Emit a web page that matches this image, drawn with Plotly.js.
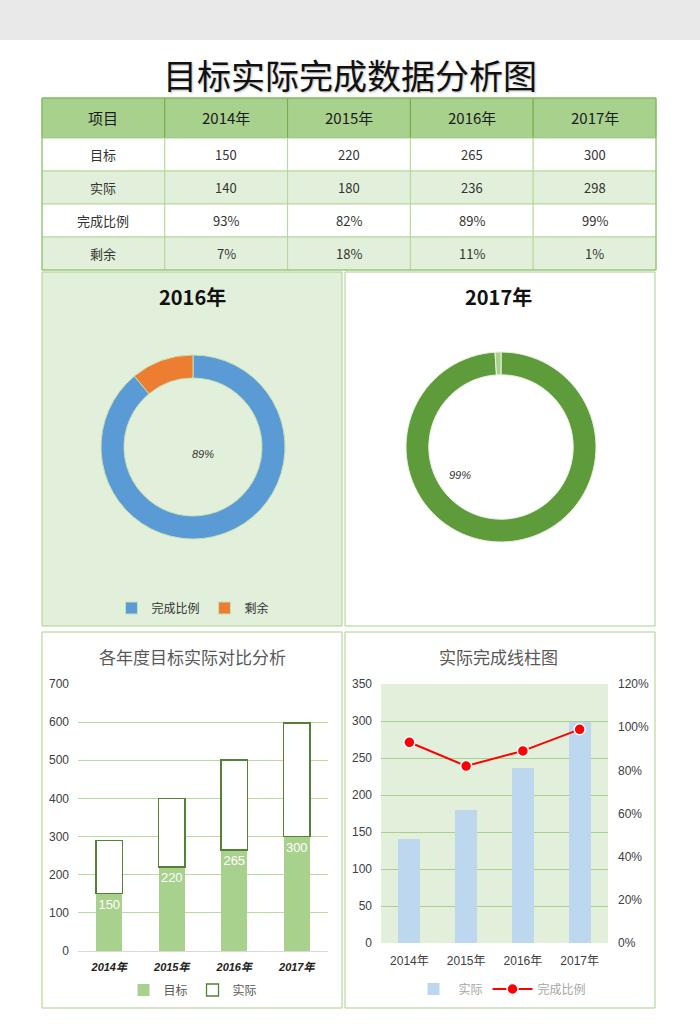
<!DOCTYPE html>
<html><head><meta charset="utf-8">
<script src="https://cdn.plot.ly/plotly-3.0.1.min.js"></script>
<style>html,body{margin:0;padding:0;background:#fff;} #chart{width:700px;height:1030px;}</style>
</head><body><div id="chart"></div>
<script>
// ---- data ----
const years = ['2014年', '2015年', '2016年', '2017年'];
const headerFirst = '项目';
const rowLabels = ['目标', '实际', '完成比例', '剩余'];
const target = [150, 220, 265, 300];
const actual = [140, 180, 236, 298];
const ratio = [93, 82, 89, 99];     // 完成比例 %
const remain = [7, 18, 11, 1];      // 剩余 %
const pieLabels = ['完成比例', '剩余'];
const mainTitle = '目标实际完成数据分析图';
const barTitle = '各年度目标实际对比分析';
const comboTitle = '实际完成线柱图';

// ---- helpers ----
const W = 700, H = 1030;
const fx = x => x / W;
const fy = y => 1 - y / H;
const CJK = '"Noto Sans CJK SC", "Liberation Sans", sans-serif';
const NUM = '"Liberation Sans", Arial, "Noto Sans CJK SC", sans-serif';
const gridGreen = '#a9d18e';

// ---- table (built from the arrays) ----
const tblX0 = 42, tblX1 = 656, tblY0 = 98, headH = 40, rowH = 33;
const colW = (tblX1 - tblX0) / (years.length + 1);
const headerRow = [headerFirst, ...years];
const bodyRows = [target.map(String), actual.map(String), ratio.map(v => v + '%'), remain.map(v => v + '%')];
const tableShapes = [];
const tableAnns = [];
headerRow.forEach((h, c) => {
  const x0 = tblX0 + c * colW, x1 = x0 + colW;
  tableShapes.push({type: 'rect', xref: 'paper', yref: 'paper', layer: 'below',
    x0: fx(x0), x1: fx(x1), y0: fy(tblY0 + headH), y1: fy(tblY0),
    fillcolor: '#a9d18e', line: {color: '#70ad47', width: 1}});
  tableAnns.push({text: h, xref: 'paper', yref: 'paper', x: fx((x0 + x1) / 2), y: fy(tblY0 + headH / 2),
    xanchor: 'center', yanchor: 'middle', showarrow: false,
    font: {family: CJK, size: 15, color: '#1a1a1a'}});
});
rowLabels.forEach((lab, r) => {
  const y0 = tblY0 + headH + r * rowH, y1 = y0 + rowH;
  const fill = r % 2 === 0 ? '#ffffff' : '#e2efda';
  const rowVals = [lab, ...bodyRows[r]];
  rowVals.forEach((v, c) => {
    const x0 = tblX0 + c * colW, x1 = x0 + colW;
    tableShapes.push({type: 'rect', xref: 'paper', yref: 'paper', layer: 'below',
      x0: fx(x0), x1: fx(x1), y0: fy(y1), y1: fy(y0),
      fillcolor: fill, line: {color: '#b4d79b', width: 1}});
    tableAnns.push({text: v, xref: 'paper', yref: 'paper', x: fx((x0 + x1) / 2), y: fy((y0 + y1) / 2),
      xanchor: 'center', yanchor: 'middle', showarrow: false,
      font: {family: CJK, size: 13, color: '#333333'}});
  });
});

const traces = [
  {
    type: 'pie', labels: pieLabels, values: [ratio[2], remain[2]],
    hole: 0.75, sort: false, direction: 'clockwise', rotation: 0,
    textinfo: 'none', hoverinfo: 'label+percent',
    domain: {x: [fx(101), fx(285)], y: [fy(539), fy(355)]},
    marker: {colors: ['#5b9bd5', '#ed7d31'], line: {color: '#c5e0b4', width: 1}},
    legend: 'legend'
  },
  {
    type: 'pie', labels: pieLabels, values: [ratio[3], remain[3]],
    hole: 0.76, sort: false, direction: 'clockwise', rotation: 0,
    textinfo: 'none', hoverinfo: 'label+percent',
    domain: {x: [fx(406), fx(596)], y: [fy(542), fy(352)]},
    marker: {colors: ['#5e9b3a', '#a9d18e'], line: {color: '#e8f2e0', width: 1}},
    legend: 'legend2'
  },
  {
    type: 'bar', name: rowLabels[0], x: years, y: target, xaxis: 'x', yaxis: 'y',
    width: 0.42, marker: {color: '#a9d18e', line: {color: '#a9d18e', width: 0}},
    text: target, texttemplate: '%{y}', textposition: 'inside', insidetextanchor: 'end',
    textangle: 0, constraintext: 'none',
    textfont: {family: NUM, size: 13, color: '#ffffff'}, legend: 'legend3'
  },
  {
    type: 'bar', name: rowLabels[1], x: years, y: actual, xaxis: 'x', yaxis: 'y',
    width: 0.42, marker: {color: '#ffffff', line: {color: '#548235', width: 1.3}},
    legend: 'legend3'
  },
  {
    type: 'bar', name: rowLabels[1], x: years, y: actual, xaxis: 'x2', yaxis: 'y2',
    width: 0.39, marker: {color: '#bdd7ee'}, legend: 'legend4'
  },
  {
    type: 'scatter', mode: 'lines+markers', name: rowLabels[2], x: years, y: ratio,
    xaxis: 'x2', yaxis: 'y3',
    line: {color: '#ff0000', width: 2},
    marker: {size: 11, color: '#ff0000', line: {color: '#ffffff', width: 1.5}},
    legend: 'legend4'
  }
];

const panel = (x0, y0, x1, y1, fill) => ({
  type: 'rect', xref: 'paper', yref: 'paper', layer: 'below',
  x0: fx(x0), x1: fx(x1), y0: fy(y1), y1: fy(y0),
  fillcolor: fill, line: {color: '#a9d18e', width: 1}
});

const layout = {
  width: W, height: H,
  margin: {l: 0, r: 0, t: 0, b: 0},
  paper_bgcolor: '#ffffff', plot_bgcolor: 'rgba(0,0,0,0)',
  showlegend: true, barmode: 'stack',
  font: {family: CJK, color: '#404040'},
  shapes: [
    {type: 'rect', xref: 'paper', yref: 'paper', layer: 'below', x0: 0, x1: 1, y0: fy(40), y1: 1,
     fillcolor: '#e9e9e9', line: {width: 0}},
    ...tableShapes,
    {type: 'rect', xref: 'paper', yref: 'paper', layer: 'below',
     x0: fx(tblX0), x1: fx(tblX1), y0: fy(tblY0 + headH + rowH * rowLabels.length), y1: fy(tblY0),
     fillcolor: 'rgba(0,0,0,0)', line: {color: '#8cc06a', width: 1}},
    panel(42, 272, 342, 626, '#e2efda'),
    panel(345, 272, 655, 626, '#ffffff'),
    panel(42, 632, 342, 1008, '#ffffff'),
    panel(345, 632, 655, 1008, '#ffffff'),
    {type: 'rect', xref: 'x2 domain', yref: 'y2 domain', layer: 'below', x0: 0, x1: 1, y0: 0, y1: 1,
     fillcolor: '#e2efda', line: {width: 0}}
  ],
  annotations: [
    {text: mainTitle, xref: 'paper', yref: 'paper', x: fx(350), y: fy(75), xanchor: 'center', yanchor: 'middle',
     showarrow: false, font: {family: CJK, size: 34, color: '#111111', shadow: '1px 1px 2px #bbbbbb'}},
    ...tableAnns,
    {text: '<b>' + years[2] + '</b>', xref: 'paper', yref: 'paper', x: fx(192), y: fy(297), xanchor: 'center', yanchor: 'middle',
     showarrow: false, font: {family: CJK, size: 20, color: '#111111'}},
    {text: '<b>' + years[3] + '</b>', xref: 'paper', yref: 'paper', x: fx(498), y: fy(297), xanchor: 'center', yanchor: 'middle',
     showarrow: false, font: {family: CJK, size: 20, color: '#111111'}},
    {text: ratio[2] + '%', xref: 'paper', yref: 'paper', x: fx(203), y: fy(454), xanchor: 'center', yanchor: 'middle',
     showarrow: false, font: {family: NUM, size: 11, color: '#333333', style: 'italic'}},
    {text: ratio[3] + '%', xref: 'paper', yref: 'paper', x: fx(460), y: fy(475), xanchor: 'center', yanchor: 'middle',
     showarrow: false, font: {family: NUM, size: 11, color: '#333333', style: 'italic'}},
    {text: barTitle, xref: 'paper', yref: 'paper', x: fx(193), y: fy(656), xanchor: 'center', yanchor: 'middle',
     showarrow: false, font: {family: CJK, size: 17, color: '#595959'}},
    {text: comboTitle, xref: 'paper', yref: 'paper', x: fx(498), y: fy(656), xanchor: 'center', yanchor: 'middle',
     showarrow: false, font: {family: CJK, size: 17, color: '#595959'}}
  ],
  legend: {x: fx(193), y: fy(608), xanchor: 'center', yanchor: 'middle', orientation: 'h',
           bgcolor: 'rgba(0,0,0,0)', font: {family: CJK, size: 12, color: '#333333'}, itemwidth: 30},
  legend2: {x: fx(498), y: fy(608), xanchor: 'center', yanchor: 'middle', orientation: 'h',
            bgcolor: 'rgba(0,0,0,0)', font: {family: CJK, size: 12, color: '#333333'}, itemwidth: 30},
  legend3: {x: fx(193), y: fy(990), xanchor: 'center', yanchor: 'middle', orientation: 'h',
            bgcolor: 'rgba(0,0,0,0)', font: {family: CJK, size: 12, color: '#595959'}, itemwidth: 30, traceorder: 'normal'},
  legend4: {x: fx(500), y: fy(989), xanchor: 'center', yanchor: 'middle', orientation: 'h',
            bgcolor: 'rgba(0,0,0,0)', font: {family: CJK, size: 12, color: '#a6a6a6'}, itemwidth: 40, traceorder: 'normal'},
  xaxis: {domain: [fx(78), fx(328)], anchor: 'y', type: 'category', showgrid: false,
          showline: true, linecolor: '#d9d9d9', linewidth: 1, ticks: '', ticklabelstandoff: 6,
          tickfont: {family: NUM, size: 11, color: '#222222', style: 'italic', weight: 'bold'}, fixedrange: true},
  yaxis: {domain: [fy(951), fy(684)], anchor: 'x', range: [0, 700], dtick: 100, showgrid: true,
          gridcolor: '#b9dba2', zeroline: false, showline: false, ticks: '', ticklabelstandoff: 8,
          tickfont: {family: NUM, size: 12, color: '#404040'}, fixedrange: true},
  xaxis2: {domain: [fx(381), fx(608)], anchor: 'y2', type: 'category', showgrid: false,
           showline: false, ticks: '', ticklabelstandoff: 9,
           tickfont: {family: NUM, size: 12, color: '#404040'}, fixedrange: true},
  yaxis2: {domain: [fy(943), fy(684)], anchor: 'x2', range: [0, 350], dtick: 50, showgrid: true,
           gridcolor: gridGreen, zeroline: false, showline: false, ticks: '', ticklabelstandoff: 8,
           tickfont: {family: NUM, size: 12, color: '#404040'}, fixedrange: true},
  yaxis3: {overlaying: 'y2', anchor: 'x2', side: 'right', range: [0, 120], dtick: 20, ticksuffix: '%',
           showgrid: false, zeroline: false, showline: false, ticks: '', ticklabelstandoff: 9,
           tickfont: {family: NUM, size: 12, color: '#404040'}, fixedrange: true}
};

Plotly.newPlot('chart', traces, layout, {displayModeBar: false});
</script>
</body></html>
